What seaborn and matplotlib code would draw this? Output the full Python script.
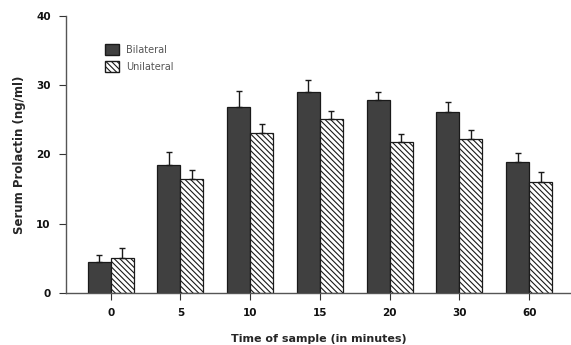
import numpy as np
import pandas as pd
import matplotlib
matplotlib.use("Agg")
import matplotlib.pyplot as plt
import seaborn as sns
from matplotlib.patches import Patch

# values (ng/ml)
times = ["0", "5", "10", "15", "20", "30", "60"]
bilateral = [4.5, 18.5, 26.8, 29.0, 27.9, 26.1, 18.9]
bilateral_sem = [1.0, 1.8, 2.3, 1.7, 1.1, 1.5, 1.3]
unilateral = [5.0, 16.4, 23.1, 25.1, 21.8, 22.2, 16.0]
unilateral_sem = [1.5, 1.3, 1.3, 1.2, 1.1, 1.3, 1.4]
groups = ["Bilateral", "Unilateral"]

df = pd.DataFrame({
    "time": times * 2,
    "prolactin": bilateral + unilateral,
    "sem": bilateral_sem + unilateral_sem,
    "group": [groups[0]] * len(times) + [groups[1]] * len(times),
})

sns.set_style("ticks")
plt.rcParams["font.family"] = ["DejaVu Sans"]
plt.rcParams["hatch.linewidth"] = 0.8

HATCH = "\\" * 6

fig = plt.figure(figsize=(5.71, 3.45), dpi=100)
ax = fig.add_axes([0.1156, 0.1507, 0.8844, 0.803])

dark = "#404040"
sns.barplot(data=df, x="time", y="prolactin", hue="group", order=times,
            hue_order=groups, palette=[dark, "white"], width=0.66,
            edgecolor="#1a1a1a", linewidth=0.9, errorbar=None, legend=False,
            ax=ax)

# hatch the unilateral bars and add one-sided error bars
for cont, grp in zip(ax.containers, groups):
    sub = df[df["group"] == grp]
    xs, ys = [], []
    for bar in cont:
        xs.append(bar.get_x() + bar.get_width() / 2)
        ys.append(bar.get_height())
        if grp == "Unilateral":
            bar.set_hatch(HATCH)
    err = sub["sem"].to_numpy()
    ax.errorbar(xs, ys, yerr=[np.zeros_like(err), err], fmt="none",
                ecolor="#1a1a1a", elinewidth=1.0, capsize=2.5, capthick=1.0)

ax.set_ylim(0, 40)
ax.set_xlim(-0.64, 6.6)
ax.set_yticks([0, 10, 20, 30, 40])
ax.tick_params(axis="both", direction="out", length=5, width=0.8,
               colors="#333333", labelsize=7.5, pad=6)
for lab in ax.get_xticklabels() + ax.get_yticklabels():
    lab.set_fontweight("bold")
    lab.set_color("#111111")

sns.despine(ax=ax, top=True, right=True)
ax.spines["left"].set_color("#555555")
ax.spines["bottom"].set_color("#555555")
ax.spines["left"].set_linewidth(1.0)
ax.spines["bottom"].set_linewidth(1.0)

ax.set_xlabel("Time of sample (in minutes)", fontsize=8, fontweight="bold",
              labelpad=11)
ax.set_ylabel("Serum Prolactin (ng/ml)", fontsize=8.5, fontweight="bold",
              labelpad=7)

handles = [Patch(facecolor=dark, edgecolor="#1a1a1a", label="Bilateral"),
           Patch(facecolor="white", edgecolor="#1a1a1a", hatch=HATCH,
                 label="Unilateral")]
ax.legend(handles=handles, loc="upper left", bbox_to_anchor=(0.06, 0.93),
          frameon=False, fontsize=7, handlelength=1.4, handleheight=1.4,
          labelspacing=0.6, labelcolor="#555555")

fig.savefig("out.png", dpi=100)
